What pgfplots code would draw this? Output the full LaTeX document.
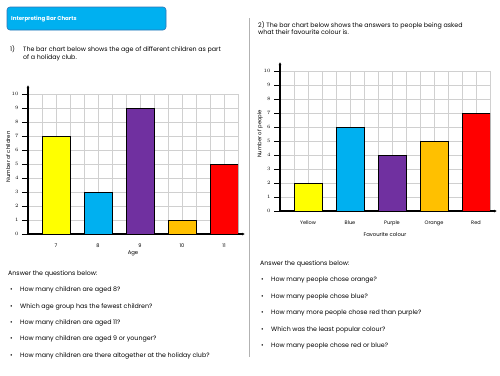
\documentclass[border=0pt]{standalone}
\usepackage{pgfplots}
\pgfplotsset{compat=1.18}
\usepackage{fontspec}
\setmainfont{Poppins}
\usetikzlibrary{arrows.meta}
\definecolor{hdr}{HTML}{00B0F0}
\definecolor{hdrline}{HTML}{2E75B6}
\definecolor{cyel}{HTML}{FFFF00}
\definecolor{cblu}{HTML}{00B0F0}
\definecolor{cpur}{HTML}{7030A0}
\definecolor{cora}{HTML}{FFC000}
\definecolor{cred}{HTML}{FF0000}
\definecolor{gridc}{HTML}{D0D0D0}
\newcommand{\bodyfont}{\fontsize{6.3}{7}\selectfont}
\pgfplotsset{wsbar/.style={
  scale only axis, width=210pt, height=140pt, anchor=south west,
  xmin=0, xmax=15, ymin=0, ymax=10,
  axis lines=left,
  axis line style={line width=1.1pt, -{Latex[length=3pt,width=3pt]}},
  x axis line style={shorten >=-7pt},
  y axis line style={shorten >=-9pt},
  ytick={0,...,10}, xtick={2,5,8,11,14},
  minor xtick={1,...,15}, minor ytick={1,...,10},
  grid=minor, minor grid style={gridc, line width=0.7pt},
  minor tick length=0pt, major tick length=6pt, tick align=outside,
  xtick style={draw=none}, ytick style={black, line width=0.8pt},
  tick label style={font=\fontsize{5}{6}\selectfont},
  ybar, bar width=2,
  every axis y label/.style={at={(axis description cs:0,0.55)}, rotate=90, anchor=center, yshift=20pt, font=\fontsize{5.3}{6}\selectfont},
}}
\begin{document}
\begin{tikzpicture}
\fill[white] (0pt,0pt) rectangle (500pt,-375pt);
% header
\draw[hdrline, fill=hdr, rounded corners=3pt, line width=0.6pt] (7pt,-7pt) rectangle (166pt,-30pt);
\node[anchor=west, inner sep=0pt, text=white, font=\fontsize{5.5}{6}\selectfont\bfseries] at (11pt,-19pt) {Interpreting Bar Charts};
% divider
\draw[gray!60, line width=1.2pt] (249.5pt,-18pt) -- (249.5pt,-357pt);
% left text
\node[anchor=west, inner sep=0pt, font=\bodyfont] at (10pt,-49.5pt) {1)};
\node[anchor=west, inner sep=0pt, font=\bodyfont] at (23pt,-49.5pt) {The bar chart below shows the age of different children as part};
\node[anchor=west, inner sep=0pt, font=\bodyfont] at (23pt,-57.5pt) {of a holiday club.};
% right text
\node[anchor=west, inner sep=0pt, font=\bodyfont] at (258pt,-25pt) {2) The bar chart below shows the answers to people being asked};
\node[anchor=west, inner sep=0pt, font=\bodyfont] at (258pt,-32.5pt) {what their favourite colour is.};
% chart 1
\begin{axis}[wsbar, at={(28pt,-234pt)},
  xticklabels={7,8,9,10,11},
  xlabel={Age}, ylabel={Number of children},
  every axis x label/.style={at={(axis description cs:0.5,0)}, anchor=center, yshift=-19pt, font=\fontsize{5.3}{6}\selectfont}]
\addplot[fill=cyel, draw=black, line width=0.6pt, bar shift=0pt] coordinates {(2,7)};
\addplot[fill=cblu, draw=black, line width=0.6pt, bar shift=0pt] coordinates {(5,3)};
\addplot[fill=cpur, draw=black, line width=0.6pt, bar shift=0pt] coordinates {(8,9)};
\addplot[fill=cora, draw=black, line width=0.6pt, bar shift=0pt] coordinates {(11,1)};
\addplot[fill=cred, draw=black, line width=0.6pt, bar shift=0pt] coordinates {(14,5)};
\end{axis}
% chart 2
\begin{axis}[wsbar, at={(280pt,-211pt)},
  xticklabels={Yellow,Blue,Purple,Orange,Red},
  xlabel={Favourite colour}, ylabel={Number of people},
  every axis x label/.style={at={(axis description cs:0.5,0)}, anchor=center, yshift=-24pt, font=\fontsize{5.3}{6}\selectfont}]
\addplot[fill=cyel, draw=black, line width=0.6pt, bar shift=0pt] coordinates {(2,2)};
\addplot[fill=cblu, draw=black, line width=0.6pt, bar shift=0pt] coordinates {(5,6)};
\addplot[fill=cpur, draw=black, line width=0.6pt, bar shift=0pt] coordinates {(8,4)};
\addplot[fill=cora, draw=black, line width=0.6pt, bar shift=0pt] coordinates {(11,5)};
\addplot[fill=cred, draw=black, line width=0.6pt, bar shift=0pt] coordinates {(14,7)};
\end{axis}
% questions
\begin{scope}[every node/.style={anchor=west, inner sep=0pt, font=\bodyfont}]
\node at (8pt,-274pt) {Answer the questions below:};
\foreach \yy/\tx in {290.3/{How many children are aged 8?},306.7/{Which age group has the fewest children?},322.7/{How many children are aged 11?},339/{How many children are aged 9 or younger?},355.7/{How many children are there altogether at the holiday club?}}{
  \node at (10pt,-\yy pt) {•};
  \node at (20pt,-\yy pt) {\tx};
}
\node at (260pt,-264pt) {Answer the questions below:};
\foreach \yy/\tx in {280.3/{How many people chose orange?},296.7/{How many people chose blue?},312.7/{How many more people chose red than purple?},329.7/{Which was the least popular colour?},346.3/{How many people chose red or blue?}}{
  \node at (261pt,-\yy pt) {•};
  \node at (271pt,-\yy pt) {\tx};
}
\end{scope}
\end{tikzpicture}
\end{document}
